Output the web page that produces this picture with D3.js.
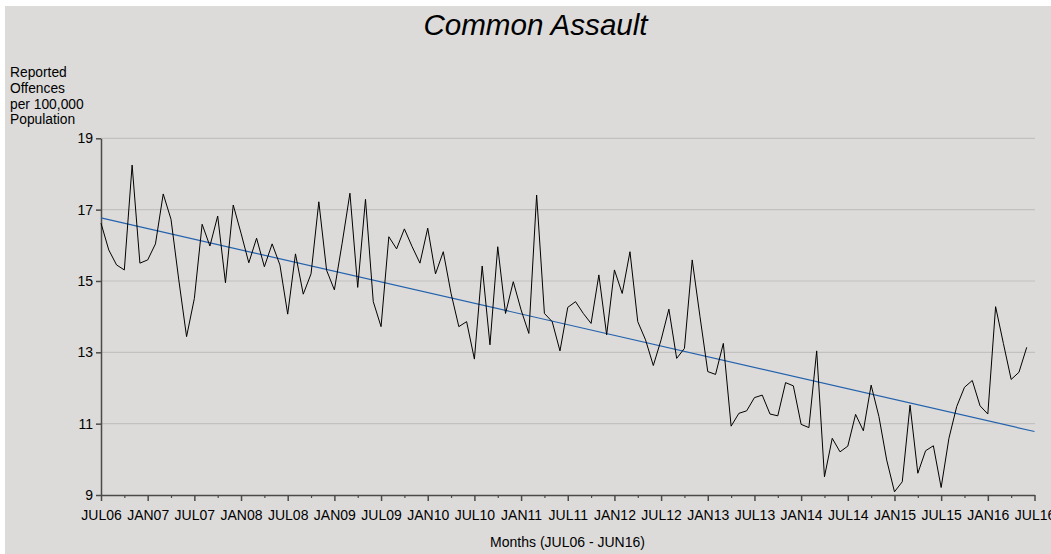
<!DOCTYPE html>
<html><head><meta charset="utf-8">
<script src="https://cdn.jsdelivr.net/npm/d3@7"></script>
<style>
html,body{margin:0;padding:0;background:#fff;}
svg{display:block;font-family:"Liberation Sans",Arial,sans-serif;}
</style></head>
<body>
<svg id="chart" width="1051" height="554"></svg>
<script>
const title = "Common Assault";
const yLabelLines = ["Reported","Offences","per 100,000","Population"];
const xLabel = "Months (JUL06 - JUN16)";
const tickLabels = ["JUL06","JAN07","JUL07","JAN08","JUL08","JAN09","JUL09","JAN10","JUL10","JAN11","JUL11","JAN12","JUL12","JAN13","JUL13","JAN14","JUL14","JAN15","JUL15","JAN16","JUL16"];
const yTicks = [9,11,13,15,17,19];
const values = [
16.62, 15.87, 15.45, 15.31, 18.25, 15.50, 15.59, 16.04, 17.44, 16.73,
15.03, 13.44, 14.51, 16.59, 15.98, 16.82, 14.95, 17.13, 16.34, 15.51,
16.20, 15.40, 16.04, 15.45, 14.07, 15.76, 14.63, 15.20, 17.22, 15.30,
14.75, 16.06, 17.46, 14.82, 17.29, 14.42, 13.72, 16.24, 15.90, 16.46,
15.96, 15.50, 16.48, 15.20, 15.82, 14.65, 13.72, 13.86, 12.81, 15.42,
13.21, 15.96, 14.09, 14.98, 14.19, 13.53, 17.41, 14.09, 13.86, 13.04,
14.26, 14.42, 14.09, 13.81, 15.17, 13.49, 15.31, 14.65, 15.82, 13.86,
13.35, 12.63, 13.35, 14.21, 12.83, 13.11, 15.59, 14.00, 12.46, 12.38,
13.25, 10.93, 11.29, 11.36, 11.73, 11.80, 11.27, 11.22, 12.15, 12.06,
10.98, 10.89, 13.04, 9.51, 10.59, 10.21, 10.37, 11.26, 10.80, 12.08,
11.20, 9.98, 9.09, 9.37, 11.52, 9.61, 10.24, 10.38, 9.21, 10.59,
11.48, 12.02, 12.21, 11.50, 11.27, 14.28, 13.25, 12.24, 12.44, 13.14
];
const trendMonths = [0, 120];
const trendValues = [16.77, 10.78];

const svg = d3.select("#chart");
svg.append("rect").attr("x",5).attr("y",6).attr("width",1046).attr("height",548).attr("fill","#dcdbda");

const x = d3.scaleLinear().domain([0,120]).range([101,1034.5]);
const y = d3.scaleLinear().domain([9,19]).range([495,138.3]);

// gridlines
svg.append("g").selectAll("line").data(yTicks.filter(d=>d!==9)).join("line")
  .attr("x1",x(0)).attr("x2",x(120)+0.5)
  .attr("y1",d=>y(d)).attr("y2",d=>y(d))
  .attr("stroke","#c2c1c0").attr("stroke-width",1.2);

// title
svg.append("text").attr("x",535.5).attr("y",35).attr("text-anchor","middle")
  .attr("font-size",29.6).attr("font-style","italic").attr("fill","#000").text(title);

// y label
svg.append("g").selectAll("text").data(yLabelLines).join("text")
  .attr("x",10).attr("y",(d,i)=>77+i*15.8).attr("font-size",13.8).attr("fill","#000").text(d=>d);

// x label
svg.append("text").attr("x",567.5).attr("y",547).attr("text-anchor","middle")
  .attr("font-size",14).attr("fill","#000").text(xLabel);

// y axis
const yAxis = svg.append("g").attr("transform",`translate(${x(0)},0)`)
  .call(d3.axisLeft(y).tickValues(yTicks).tickSize(5).tickSizeOuter(0).tickPadding(3).tickFormat(d3.format("d")));
yAxis.selectAll("text").attr("font-size",14).attr("fill","#000").attr("font-family","Liberation Sans, Arial, sans-serif");
yAxis.selectAll("line,path").attr("stroke","#4a4a4a").attr("stroke-width",1.5);

// x axis minor
const xMinor = svg.append("g").attr("transform",`translate(0,${y(9)})`)
  .call(d3.axisBottom(x).tickValues(d3.range(3,120,6)).tickSize(3).tickSizeOuter(0).tickFormat(""));
xMinor.select("path").remove();
xMinor.selectAll("line").attr("stroke","#4a4a4a").attr("stroke-width",1.2);

// x axis major
const xAxis = svg.append("g").attr("transform",`translate(0,${y(9)})`)
  .call(d3.axisBottom(x).tickValues(d3.range(0,121,6)).tickSize(6).tickSizeOuter(0).tickPadding(9)
    .tickFormat((d,i)=>tickLabels[i]));
xAxis.selectAll("text").attr("font-size",14).attr("fill","#000").attr("font-family","Liberation Sans, Arial, sans-serif");
xAxis.selectAll("line,path").attr("stroke","#4a4a4a").attr("stroke-width",1.5);

// trend line
svg.append("path").datum(trendMonths.map((m,i)=>[m,trendValues[i]]))
  .attr("d",d3.line().x(d=>x(d[0])).y(d=>y(d[1])))
  .attr("fill","none").attr("stroke","#2462ad").attr("stroke-width",1.2);

// data line
svg.append("path").datum(values)
  .attr("d",d3.line().x((d,i)=>x(i)).y(d=>y(d)))
  .attr("fill","none").attr("stroke","#000").attr("stroke-width",1);
</script>
</body></html>
